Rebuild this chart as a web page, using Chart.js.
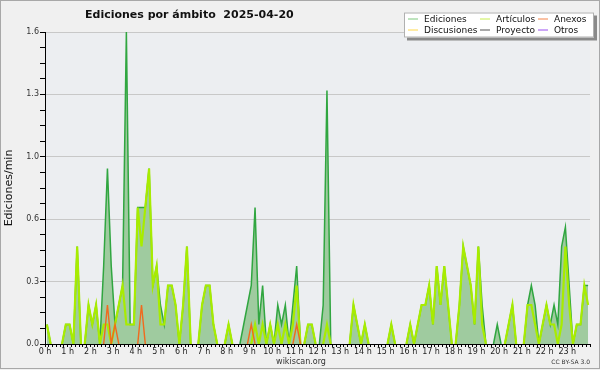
<!DOCTYPE html>
<html><head><meta charset="utf-8">
<script src="https://cdn.jsdelivr.net/npm/chart.js@4/dist/chart.umd.min.js"></script>
<style>html,body{margin:0;padding:0;background:#f0f0f0;}canvas{display:block;}</style>
</head><body>
<canvas id="c" width="600" height="370"></canvas>
<script>
// ---- data: edits per minute, one value per 10-minute slot (144 slots) ----
const hourLabels = ['0 h','1 h','2 h','3 h','4 h','5 h','6 h','7 h','8 h','9 h','10 h','11 h','12 h','13 h','14 h','15 h','16 h','17 h','18 h','19 h','20 h','21 h','22 h','23 h'];
const yTickLabels = ['0.0','0.3','0.6','1.0','1.3','1.6'];
const seriesNames = ['Ediciones','Artículos','Anexos','Discusiones','Proyecto','Otros'];

const ediciones = [
0.1,0,0,0,0,0.1,0.1,0,0.5,0,
0,0.2,0.1,0.2,0,0.4,0.9,0.4,0.1,0.2,
0.3,1.6,0.1,0.1,0.7,0.7,0.7,0.9,0.3,0.4,
0.2,0.1,0.3,0.3,0.2,0,0.2,0.5,0,0,
0,0.2,0.3,0.3,0.1,0,0,0,0.1,0,
0,0,0.1,0.2,0.3,0.7,0.1,0.3,0,0.1,
0,0.2,0.1,0.2,0,0.2,0.4,0,0,0.1,
0.1,0,0,0.2,1.3,0,0,0,0,0,
0,0.2,0.1,0,0.1,0,0,0,0,0,
0,0.1,0,0,0,0,0.1,0,0.1,0.2,
0.2,0.3,0.1,0.4,0.2,0.4,0.2,0,0,0.2,
0.5,0.4,0.3,0.1,0.5,0.2,0,0,0,0.1,
0,0,0.1,0.2,0,0,0,0.2,0.3,0.2,
0,0.1,0.2,0.1,0.2,0.1,0.5,0.6,0.3,0,
0.1,0.1,0.3,0.3];

const articulos = [
0.1,0,0,0,0,0.1,0.1,0,0.5,0,
0,0.2,0.1,0.2,0,0.1,0.1,0,0.1,0.2,
0.3,0.1,0.1,0.1,0.7,0.5,0.7,0.9,0.3,0.4,
0.1,0.1,0.3,0.3,0.2,0,0.2,0.5,0,0,
0,0.2,0.3,0.3,0.1,0,0,0,0.1,0,
0,0,0,0,0,0.1,0,0.1,0,0.1,
0,0.1,0,0.1,0,0.1,0.3,0,0,0.1,
0.1,0,0,0,0.1,0,0,0,0,0,
0,0.2,0.1,0,0.1,0,0,0,0,0,
0,0.1,0,0,0,0,0.1,0,0.1,0.2,
0.2,0.3,0.1,0.4,0.2,0.4,0.2,0,0,0.2,
0.5,0.4,0.3,0.1,0.5,0.1,0,0,0,0,
0,0,0.1,0.2,0,0,0,0.2,0.2,0.1,
0,0.1,0.2,0.1,0.1,0,0.1,0.5,0.2,0,
0.1,0.1,0.3,0.2];

const anexos = [
0,0,0,0,0,0,0,0,0,0,
0,0,0,0,0,0,0.2,0,0.1,0,
0,0,0,0,0,0.2,0,0,0,0,
0,0,0,0,0,0,0,0,0,0,
0,0,0,0,0,0,0,0,0,0,
0,0,0,0,0.1,0,0,0,0,0,
0,0,0,0,0,0,0.1,0,0,0,
0,0,0,0,0,0,0,0,0,0,
0,0,0,0,0,0,0,0,0,0,
0,0,0,0,0,0,0,0,0,0,
0,0,0,0,0,0,0,0,0,0,
0,0,0,0,0,0,0,0,0,0,
0,0,0,0,0,0,0,0,0,0,
0,0,0,0,0,0,0,0,0,0,
0,0,0,0];

const discusiones = [
0,0,0,0,0,0,0,0,0,0,0,0,0,0,0,0,0,0,0,0,0,0,0,0,0,0,0,0,0,0,0,0,0,0,0,0,
0,0,0,0,0,0,0,0,0,0,0,0,0,0,0,0,0,0,0,0,0,0,0,0,0,0,0,0,0,0,0,0,0,0,0,0,
0,0,0,0,0,0,0,0,0,0,0,0,0,0,0,0,0,0,0,0,0,0,0,0,0,0,0,0,0,0,0,0,0,0,0,0,
0,0,0,0,0,0,0,0,0,0,0,0,0,0,0,0,0,0,0,0,0,0,0,0,0,0,0,0,0,0,0,0,0,0,0,0];
const proyecto = [
0,0,0,0,0,0,0,0,0,0,0,0,0,0,0,0,0,0,0,0,0,0,0,0,0,0,0,0,0,0,0,0,0,0,0,0,
0,0,0,0,0,0,0,0,0,0,0,0,0,0,0,0,0,0,0,0,0,0,0,0,0,0,0,0,0,0,0,0,0,0,0,0,
0,0,0,0,0,0,0,0,0,0,0,0,0,0,0,0,0,0,0,0,0,0,0,0,0,0,0,0,0,0,0,0,0,0,0,0,
0,0,0,0,0,0,0,0,0,0,0,0,0,0,0,0,0,0,0,0,0,0,0,0,0,0,0,0,0,0,0,0,0,0,0,0];
const otros = [
0,0,0,0,0,0,0,0,0,0,0,0,0,0,0,0,0,0,0,0,0,0,0,0,0,0,0,0,0,0,0,0,0,0,0,0,
0,0,0,0,0,0,0,0,0,0,0,0,0,0,0,0,0,0,0,0,0,0,0,0,0,0,0,0,0,0,0,0,0,0,0,0,
0,0,0,0,0,0,0,0,0,0,0,0,0,0,0,0,0,0,0,0,0,0,0,0,0,0,0,0,0,0,0,0,0,0,0,0,
0,0,0,0,0,0,0,0,0,0,0,0,0,0,0,0,0,0,0,0,0,0,0,0,0,0,0,0,0,0,0,0,0,0,0,0];

// ---- helpers ----
const SLOTS_PER_HOUR = 6;
const toXY = arr => arr.map((v, i) => ({x: i + 0.5, y: v}));
const hideZeroRuns = {borderColor: c => (c.p0.parsed.y === 0 && c.p1.parsed.y === 0) ? 'rgba(0,0,0,0)' : undefined};

const lineColors = ['#30a640', '#a8ec00', '#f06a1e', '#ffd83a', '#555555', '#9a4ef0'];
const legendColors = ['#7fc97f', '#c8ee50', '#f4844a', '#ffd84a', '#555555', '#9a4ef0'];
const lineWidths = [1.5, 2.2, 1.4, 1.3, 1.3, 1.3];

const FONT = "'DejaVu Sans', 'Liberation Sans', sans-serif";

const frame = {
  id: 'frame',
  beforeDraw(chart) {
    const {ctx, chartArea: a} = chart;
    ctx.save();
    ctx.fillStyle = '#f0f0f0';
    ctx.fillRect(0, 0, chart.width, chart.height);
    ctx.fillStyle = '#eceef1';
    ctx.fillRect(a.left, a.top, a.right - a.left, a.bottom - a.top);
    ctx.restore();
  },
  afterDraw(chart) {
    const {ctx} = chart;
    ctx.save();
    // outer frame
    ctx.strokeStyle = '#a8a8a8';
    ctx.lineWidth = 1;
    ctx.strokeRect(0.5, 0.5, chart.width - 1, chart.height - 2);
    // title
    ctx.fillStyle = '#111';
    ctx.font = "bold 11px " + FONT;
    ctx.textBaseline = 'alphabetic';
    ctx.textAlign = 'left';
    ctx.fillText('Ediciones por ámbito  2025-04-20', 85, 18);
    // footer
    ctx.font = "8px " + FONT;
    ctx.fillStyle = '#333';
    ctx.textAlign = 'center';
    ctx.fillText('wikiscan.org', 301, 364);
    ctx.font = "6px " + FONT;
    ctx.textAlign = 'right';
    ctx.fillText('CC BY-SA 3.0', 590, 364);
    // legend
    const bx = 404, by = 12.5, bw = 190, bh = 25;
    ctx.fillStyle = '#8a8a8a';
    ctx.fillRect(bx + 3, by + 3, bw, bh);
    ctx.fillStyle = '#ffffff';
    ctx.fillRect(bx, by, bw, bh);
    ctx.strokeStyle = '#b0b0b0';
    ctx.strokeRect(bx + 0.5, by + 0.5, bw - 1, bh - 1);
    const cols = [408, 480, 538];
    const rows = [18.5, 29.5];
    ctx.font = "9px " + FONT;
    ctx.textAlign = 'left';
    ctx.textBaseline = 'middle';
    chart.data.datasets.forEach((ds, k) => {
      const col = k % 3, row = Math.floor(k / 3);
      const x = cols[col], y = rows[row];
      ctx.strokeStyle = legendColors[k];
      ctx.lineWidth = 1;
      ctx.beginPath();
      ctx.moveTo(x, y + 0.5);
      ctx.lineTo(x + 10, y + 0.5);
      ctx.stroke();
      ctx.fillStyle = '#111';
      ctx.fillText(ds.label, x + 16, y + 1);
    });
    ctx.restore();
  }
};

const seriesData = [ediciones, articulos, anexos, discusiones, proyecto, otros];
const drawOrder = [5, 3, 1, 4, 4, 4];

const datasets = seriesNames.map((name, k) => ({
  label: name,
  data: toXY(seriesData[k]),
  borderColor: lineColors[k],
  borderWidth: lineWidths[k],
  backgroundColor: k === 0 ? '#9fcb9f' : 'rgba(0,0,0,0)',
  fill: k === 0 ? 'origin' : false,
  order: drawOrder[k],
  segment: hideZeroRuns,
  pointRadius: 0,
  tension: 0
}));

new Chart(document.getElementById('c'), {
  type: 'line',
  data: {datasets},
  options: {
    responsive: false,
    animation: false,
    devicePixelRatio: 1,
    layout: {padding: {top: 32, right: 10, left: 0, bottom: 0}},
    plugins: {legend: {display: false}, tooltip: {enabled: false}, title: {display: false}},
    scales: {
      x: {
        type: 'linear', min: 0, max: 144,
        afterBuildTicks: s => { const t = []; for (let i = 0; i <= 24 * SLOTS_PER_HOUR; i++) t.push({value: i}); s.ticks = t; },
        afterFit: s => { s.height = 26; },
        ticks: {
          autoSkip: false, maxRotation: 0, minRotation: 0, padding: 0,
          callback: v => (v % SLOTS_PER_HOUR === 0 && v / SLOTS_PER_HOUR < hourLabels.length) ? hourLabels[v / SLOTS_PER_HOUR] : '',
          font: {family: FONT, size: 8}, color: '#222'
        },
        grid: {drawOnChartArea: false, drawTicks: true, tickLength: 3, tickColor: '#000', tickWidth: 1},
        border: {color: '#000', width: 1, z: 1}
      },
      y: {
        min: 0, max: 1.6,
        afterBuildTicks: s => { const t = []; for (let i = 0; i <= 20; i++) t.push({value: i * 0.08}); s.ticks = t; },
        afterFit: s => { s.width = 45; },
        ticks: {
          autoSkip: false, padding: 1,
          callback: (v, i) => (i % 4 === 0) ? yTickLabels[i / 4] : '',
          font: {family: FONT, size: 8}, color: '#333'
        },
        grid: {
          color: c => (c.index % 4 === 0 && c.index > 0) ? '#c8c8c8' : 'rgba(0,0,0,0)',
          drawTicks: true, tickLength: 5, tickColor: '#000'
        },
        border: {color: '#000', width: 1, z: 1},
        title: {display: true, text: 'Ediciones/min', font: {family: FONT, size: 11}, color: '#111', padding: {top: 3, bottom: 0}}
      }
    }
  },
  plugins: [frame]
});
</script>
</body></html>
